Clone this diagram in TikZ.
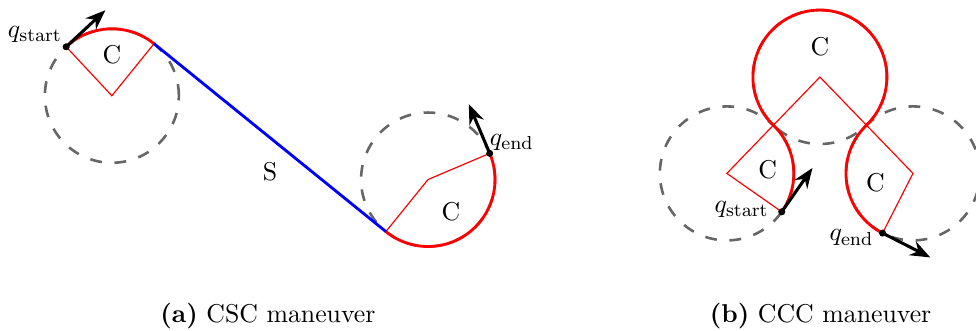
\documentclass[11pt,tikz,border=0pt]{standalone}
\usepackage{amsmath,amssymb}
\usetikzlibrary{arrows.meta,calc}

\begin{document}
\begin{tikzpicture}[scale=1.0,
    guide/.style={black!60,line width=1.1pt,dash pattern=on 5pt off 5.4pt},
    turn/.style={red,line width=1.2pt},
    spoke/.style={red,line width=0.5pt},
    heading/.style={-{Stealth[length=8.5pt,width=6.5pt]},line width=1.3pt}]
  \useasboundingbox (0,0) rectangle (14.57,4.94);

  \coordinate (c1) at (1.67,3.51);
  \coordinate (c2) at (6.39,2.26);
  \coordinate (qs) at ($(c1)+(133:1)$);
  \coordinate (t1) at ($(c1)+(51:1)$);
  \coordinate (t2) at ($(c2)+(231:1)$);
  \coordinate (qe) at ($(c2)+(23:1)$);
  \draw[guide] (c1) circle (1);
  \draw[guide] (c2) circle (1);
  \draw[spoke] (qs) -- (c1) -- (t1);
  \draw[spoke] (t2) -- (c2) -- (qe);
  \draw[turn] (qs) arc[start angle=133,end angle=51,radius=1];
  \draw[turn] (t2) arc[start angle=231,end angle=383,radius=1];
  \draw[blue,line width=1.2pt] (t1) -- (t2);
  \draw[heading] (qs) -- ++(43:0.8);
  \draw[heading] (qe) -- ++(113:0.8);
  \fill (qs) circle (1.5pt);
  \fill (qe) circle (1.5pt);
  \node (lqs) at (0.52,4.43) {$q_{\mathrm{start}}$};
  \node (lqe) at (7.64,2.81) {$q_{\mathrm{end}}$};
  \node (lc1) at (1.67,4.13) {C};
  \node (ls) at (4.03,2.37) {S};
  \node (lc2) at (6.73,1.78) {C};
  \node (capa) at (4.0,0.22) {\textbf{(a)} CSC maneuver};

  \coordinate (k0) at (12.24,3.79);
  \coordinate (k1) at ($(k0)+(226:2)$);
  \coordinate (k2) at ($(k0)+(314:2)$);
  \coordinate (ps) at ($(k1)+(-35:1)$);
  \coordinate (pe) at ($(k2)+(243:1)$);
  \foreach \k in {k0,k1,k2}
    \draw[guide] (\k) circle (1);
  \draw[spoke] (ps) -- (k1) -- (k0) -- (k2) -- (pe);
  \draw[turn] (ps) arc[start angle=-35,end angle=46,radius=1]
    arc[start angle=226,end angle=-46,radius=1]
    arc[start angle=134,end angle=243,radius=1];
  \draw[heading] (ps) -- ++(55:0.8);
  \draw[heading] (pe) -- ++(333:0.8);
  \fill (ps) circle (1.5pt);
  \fill (pe) circle (1.5pt);
  \node (lps) at (11.07,1.81) {$q_{\mathrm{start}}$};
  \node (lpe) at (12.71,1.39) {$q_{\mathrm{end}}$};
  \node (lk0) at (12.24,4.25) {C};
  \node (lk1) at (11.46,2.40) {C};
  \node (lk2) at (13.07,2.22) {C};
  \node (capb) at (12.25,0.22) {\textbf{(b)} CCC maneuver};
\end{tikzpicture}
\end{document}
